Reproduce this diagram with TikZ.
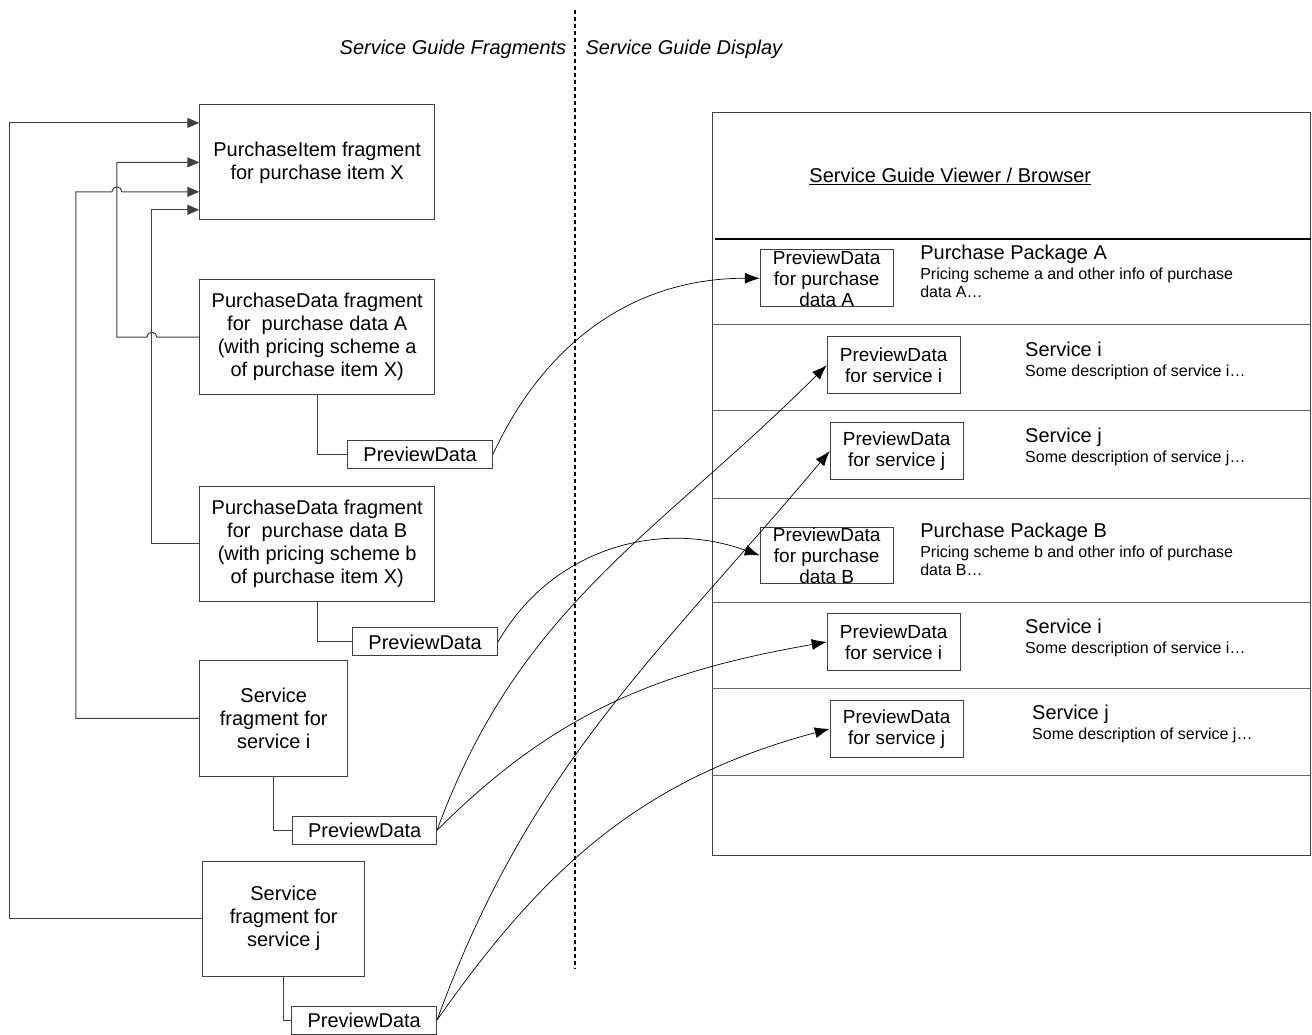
\documentclass[tikz,border=0pt]{standalone}
\usepackage{fontspec}
\setmainfont{Liberation Sans}
\usetikzlibrary{arrows.meta}

\begin{document}
\begin{tikzpicture}[
		x=1pt,y=-1pt,
		every node/.style={inner sep=0pt},
		frag/.style={draw=black!75,line width=1pt,align=center,font=\fontsize{20}{23}\selectfont},
		prev/.style={draw=black!75,line width=1pt,minimum width=145pt,minimum height=28pt,font=\fontsize{20}{23}\selectfont},
		shot/.style={draw=black!75,line width=1pt,align=center,minimum width=133pt,minimum height=57pt,font=\fontsize{19}{21}\selectfont},
		ttl/.style={anchor=base west,font=\fontsize{20}{23}\selectfont},
		desc/.style={anchor=north west,align=left,font=\fontsize{16}{18}\selectfont},
		link/.style={draw=black!75,line width=1pt,-{Triangle[length=12pt,width=10pt]}},
		tie/.style={draw=black!75,line width=1pt},
		show/.style={draw=black,line width=0.7pt,-{Latex[length=15pt,width=11pt]}}
		]
		\fill[white] (0,0) rectangle (1312,1032);
		% headings and divider
		\node[anchor=base east,font=\fontsize{20}{23}\selectfont\itshape] (frags) at (567,55) {Service Guide Fragments};
		\node[anchor=base west,font=\fontsize{20}{23}\selectfont\itshape] (disp) at (586,55) {Service Guide Display};
		\draw[line width=2pt,dash pattern=on 4pt off 3pt] (576,10) -- (576,970);
		% fragments
		\node[frag,minimum width=235pt,minimum height=115pt] (item) at (317.5,162.5) {PurchaseItem fragment\\for purchase item X};
		\node[frag,minimum width=235pt,minimum height=115pt] (pdA) at (317.5,337.5) {PurchaseData fragment\\for \ purchase data A\\(with pricing scheme a\\of purchase item X)};
		\node[frag,minimum width=235pt,minimum height=115pt] (pdB) at (317.5,544.5) {PurchaseData fragment\\for \ purchase data B\\(with pricing scheme b\\of purchase item X)};
		\node[frag,minimum width=148pt,minimum height=116pt] (svi) at (274,719) {Service\\fragment for\\service i};
		\node[frag,minimum width=162pt,minimum height=115pt] (svj) at (284,919.5) {Service\\fragment for\\service j};
		\node[prev] (pvA) at (420.5,454.5) {PreviewData};
		\node[prev] (pvB) at (425.5,642.5) {PreviewData};
		\node[prev,minimum width=144pt] (pvi) at (365,831) {PreviewData};
		\node[prev] (pvj) at (364.5,1021) {PreviewData};
		\draw[tie] (pdA.south) |- (pvA.west);
		\draw[tie] (pdB.south) |- (pvB.west);
		\draw[tie] (svi.south) |- (pvi.west);
		\draw[tie] (svj.south) |- (pvj.west);
		% references to the purchase item
		\draw[link] (svj.west) -| (10,123) -- ([yshift=39.5pt]item.west);
		\draw[link] (pdA.west) -- (157,337.5) arc[start angle=0,end angle=180,radius=5pt] -- (117,337.5) |- (item.west);
		\draw[link] (svi.west) -| (76,192) -- (112,192) arc[start angle=180,end angle=0,radius=5pt] -- ([yshift=-29.5pt]item.west);
		\draw[link] (pdB.west) -| (152,210) -- ([yshift=-47.5pt]item.west);
		% viewer
		\draw[tie] (713,113) rectangle (1312,856);
		\node[ttl] (viewer) at (810,183) {\underline{Service Guide Viewer / Browser}};
		\draw[line width=2.5pt] (716,239) -- (1312,239);
		\foreach \y in {325,411,499,603,689,776}
			\draw[draw=black!60,line width=1pt] (713,\y) -- (1312,\y);
		\node[shot] (shA) at (827.5,278.5) {PreviewData\\for purchase\\data A};
		\node[ttl] (ppA) at (921,260) {Purchase Package A};
		\node[desc] (dA) at (921,268.3) {Pricing scheme a and other info of purchase\\data A…};
		\node[shot] (shi) at (894.5,365.5) {PreviewData\\for service i};
		\node[ttl] (ti) at (1026,357) {Service i};
		\node[desc] (di) at (1026,365.3) {Some description of service i…};
		\node[shot] (shj) at (897.5,451.5) {PreviewData\\for service j};
		\node[ttl] (tj) at (1026,443) {Service j};
		\node[desc] (dj) at (1026,451.3) {Some description of service j…};
		\node[shot] (shB) at (827.5,556) {PreviewData\\for purchase\\data B};
		\node[ttl] (ppB) at (921,538) {Purchase Package B};
		\node[desc] (dB) at (921,546.3) {Pricing scheme b and other info of purchase\\data B…};
		\node[shot] (shi2) at (894.5,642.5) {PreviewData\\for service i};
		\node[ttl] (ti2) at (1026,634) {Service i};
		\node[desc] (di2) at (1026,642.3) {Some description of service i…};
		\node[shot] (shj2) at (897.5,729.5) {PreviewData\\for service j};
		\node[ttl] (tj2) at (1033,720) {Service j};
		\node[desc] (dj2) at (1033,728.3) {Some description of service j…};
		% preview links
		\draw[show] (pvA.east) to[out=65,in=180] (shA.west);
		\draw[show] (pvB.east) to[out=60,in=160] (shB.west);
		\draw[show] (pvi.east) to[out=70,in=225] (shi.west);
		\draw[show] (pvi.east) to[out=45,in=190] (shi2.west);
		\draw[show] (pvj.east) to[out=70,in=230] (shj.west);
		\draw[show] (pvj.east) to[out=55,in=195] (shj2.west);
	\end{tikzpicture}
\end{document}
